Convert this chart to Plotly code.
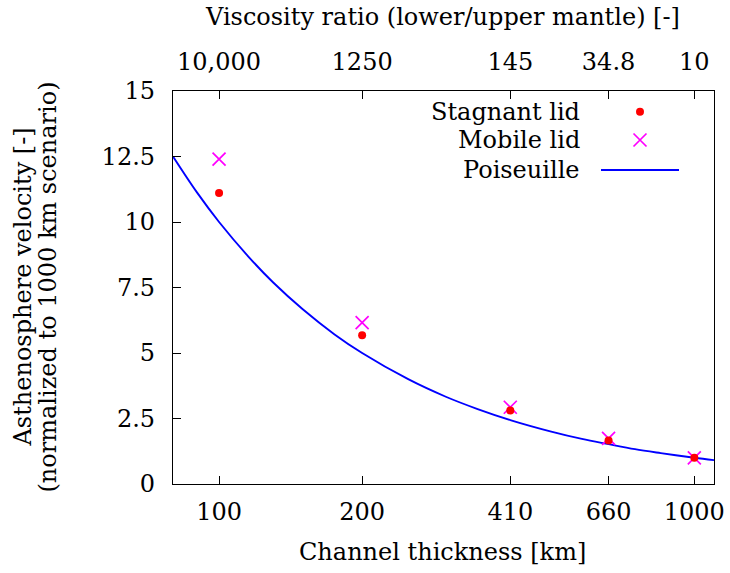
import math
import plotly.graph_objects as go

# ---- data ----
thickness = [100, 200, 410, 660, 1000]
stagnant_lid = [11.11, 5.68, 2.81, 1.66, 1.0]
mobile_lid = [12.40, 6.16, 2.93, 1.74, 1.0]
poiseuille_h = [80, 90, 100, 115, 130, 150, 175, 200, 250, 300, 350, 410, 500, 580, 660, 750, 850, 1000, 1100]
poiseuille_v = [12.5, 11.11, 10.0, 8.70, 7.69, 6.67, 5.71, 5.0, 4.0, 3.33, 2.86, 2.44, 2.0, 1.72, 1.52, 1.33, 1.18, 1.0, 0.91]
bottom_ticks = [100, 200, 410, 660, 1000]
bottom_ticktext = ["100", "200", "410", "660", "1000"]
top_ticktext = ["10,000", "1250", "145", "34.8", "10"]
y_ticks = [0, 2.5, 5, 7.5, 10, 12.5, 15]
y_ticktext = ["0", "2.5", "5", "7.5", "10", "12.5", "15"]

FONT = "DejaVu Serif"
FS = 24
W, H = 730, 573
L, R, T, B = 173, 16, 91, 89
PW, PH = W - L - R, H - T - B


def px(x):
    return (x - L) / PW


def py(y):
    return (H - B - y) / PH


xr = [math.log10(80), math.log10(1100)]
LINE_W = 1.9

fig = go.Figure()
fig.add_trace(go.Scatter(x=poiseuille_h, y=poiseuille_v, mode="lines", line=dict(color="#0000ff", width=LINE_W, shape="spline"),
                         name="Poiseuille", showlegend=False))
fig.add_trace(go.Scatter(x=thickness, y=mobile_lid, mode="markers", name="Mobile lid", showlegend=False,
                         marker=dict(symbol="x-thin", size=13, line=dict(color="#ff00ff", width=1.7))))
fig.add_trace(go.Scatter(x=thickness, y=stagnant_lid, mode="markers", name="Stagnant lid", showlegend=False,
                         marker=dict(symbol="circle", size=8, color="#ff0000")))

# custom legend (symbols on the right, text right-aligned)
leg_rows = [("Stagnant lid", 111.7), ("Mobile lid", 140), ("Poiseuille", 170)]
fig.add_trace(go.Scatter(x=[px(640)], y=[py(111.7)], xaxis="x3", yaxis="y3", mode="markers", showlegend=False,
                         marker=dict(symbol="circle", size=8, color="#ff0000"), hoverinfo="skip"))
fig.add_trace(go.Scatter(x=[px(640)], y=[py(140)], xaxis="x3", yaxis="y3", mode="markers", showlegend=False,
                         marker=dict(symbol="x-thin", size=13, line=dict(color="#ff00ff", width=1.7)), hoverinfo="skip"))
fig.add_trace(go.Scatter(x=[px(601), px(679)], y=[py(170), py(170)], xaxis="x3", yaxis="y3", mode="lines",
                         showlegend=False, line=dict(color="#0000ff", width=LINE_W), hoverinfo="skip"))

annotations = []
for text, yy in leg_rows:
    annotations.append(dict(x=px(582), y=py(yy), xref="paper", yref="paper", text=text, showarrow=False,
                            xanchor="right", yanchor="middle", font=dict(family=FONT, size=FS, color="black")))
annotations += [
    dict(x=px(442.5), y=py(552), xref="paper", yref="paper", text="Channel thickness [km]", showarrow=False,
         xanchor="center", yanchor="middle", font=dict(family=FONT, size=FS, color="black")),
    dict(x=px(442.5), y=py(17), xref="paper", yref="paper", text="Viscosity ratio (lower/upper mantle) [-]",
         showarrow=False, xanchor="center", yanchor="middle", font=dict(family=FONT, size=FS, color="black")),
    dict(x=px(22), y=0.5, xref="paper", yref="paper", text="Asthenosphere velocity [-]", textangle=-90,
         showarrow=False, xanchor="center", yanchor="middle", font=dict(family=FONT, size=FS, color="black")),
    dict(x=px(47), y=0.5, xref="paper", yref="paper", text="(normalized to 1000 km scenario)", textangle=-90,
         showarrow=False, xanchor="center", yanchor="middle", font=dict(family=FONT, size=FS, color="black")),
]

axis_common = dict(showgrid=False, zeroline=False, linecolor="black", linewidth=1.3, ticks="inside", ticklen=8,
                   tickcolor="black", tickwidth=1.2, tickfont=dict(family=FONT, size=FS, color="black"),
                   automargin=False)

fig.update_layout(
    width=W, height=H, margin=dict(l=L, r=R, t=T, b=B), paper_bgcolor="white", plot_bgcolor="white",
    showlegend=False, annotations=annotations,
    xaxis=dict(type="log", range=xr, tickvals=bottom_ticks, ticktext=bottom_ticktext, showline=True, mirror=True,
               ticklabelstandoff=6, **axis_common),
    xaxis2=dict(type="log", range=xr, tickvals=bottom_ticks, ticktext=top_ticktext, overlaying="x", side="top",
                showline=True, ticklabelstandoff=10, **axis_common),
    yaxis=dict(range=[0, 15], tickvals=y_ticks, ticktext=y_ticktext, showline=True, mirror=True,
               ticklabelstandoff=12, **axis_common),
    xaxis3=dict(range=[0, 1], domain=[0, 1], visible=False, overlaying="x", fixedrange=True, automargin=False),
    yaxis3=dict(range=[0, 1], domain=[0, 1], visible=False, overlaying="y", fixedrange=True, automargin=False),
)
# dummy trace to activate the top axis
fig.add_trace(go.Scatter(x=[100], y=[None], xaxis="x2", yaxis="y", showlegend=False, hoverinfo="skip"))

fig.write_html("out.html")
